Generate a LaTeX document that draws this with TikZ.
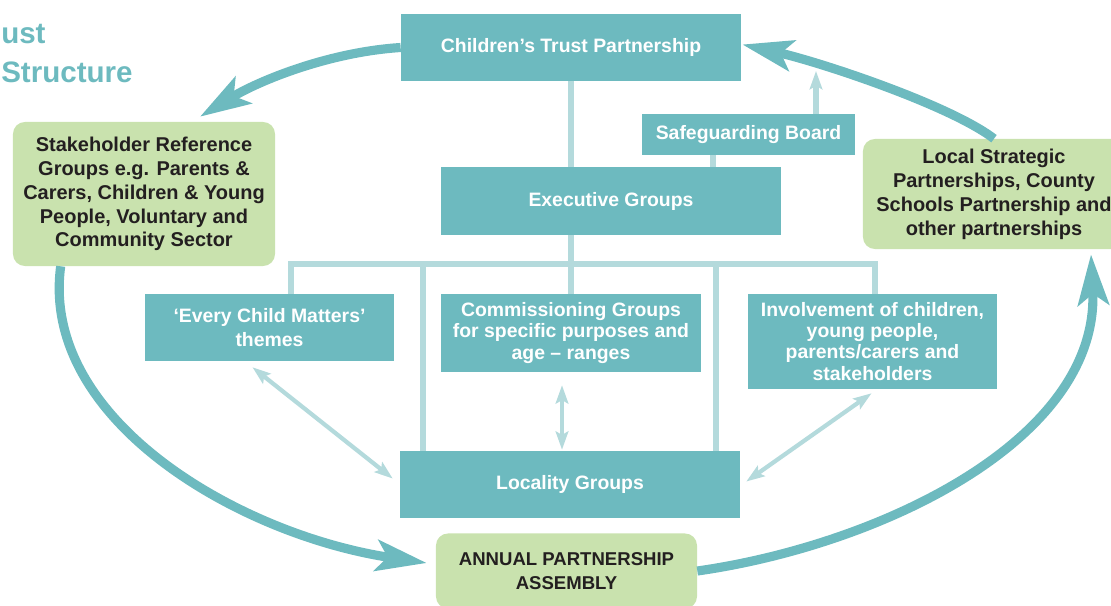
\documentclass[tikz,border=0pt]{standalone}
\usepackage{fontspec}
\setmainfont{Liberation Sans}
\usetikzlibrary{arrows.meta,calc}
\definecolor{teal1}{RGB}{109,186,191}
\definecolor{teal2}{RGB}{180,218,220}
\definecolor{leaf}{RGB}{201,226,174}
\definecolor{ink}{RGB}{35,31,32}
\begin{document}
\begin{tikzpicture}[x=0.025cm,y=-0.025cm,
    box/.style={fill=teal1,text=white,inner sep=0pt,align=center,
      font=\bfseries\fontsize{13.8}{15}\selectfont},
    gbox/.style={fill=leaf,text=ink,rounded corners=0.3cm,inner sep=0pt,align=center,
      font=\bfseries\fontsize{14.2}{17}\selectfont},
    link/.style={draw=teal2,line width=3.6pt},
    oneway/.style={link,-{Stealth[length=13pt,width=9pt,inset=2.5pt]}},
    twoway/.style={draw=teal2,line width=3pt,
      {Stealth[length=13pt,width=9pt,inset=2.5pt]}-{Stealth[length=13pt,width=9pt,inset=2.5pt]}},
    bigarrow/.style={draw=teal1,line width=6.5pt,-{Stealth[length=36pt,width=22pt,inset=8pt]}},
    ttl/.style={anchor=base west,inner sep=0pt,text=teal1,font=\bfseries\fontsize{21}{24}\selectfont}]
      \useasboundingbox (0,0) rectangle (1111,605);

      \node[ttl] (ttl1) at (1,44) {ust};
      \node[ttl] (ttl2) at (1,82) {Structure};

      \node[box,minimum width=8.5cm,minimum height=1.675cm] (ctp) at (571,47.5) {Children’s Trust Partnership};
      \node[box,minimum width=5.325cm,minimum height=1.025cm] (sgb) at (748.5,134.5) {Safeguarding Board};
      \node[box,minimum width=8.5cm,minimum height=1.7cm] (exg) at (611,201) {Executive Groups};
      \node[gbox,minimum width=6.55cm,minimum height=3.6cm] (srg) at (144,194)
        {Stakeholder Reference\\Groups e.g. Parents \&\\Carers, Children \& Young\\People, Voluntary and\\Community Sector};
      \node[gbox,minimum width=6.55cm,minimum height=2.75cm] (lsp) at (994,194)
        {Local Strategic\\Partnerships, County\\Schools Partnership and\\other partnerships};
      \node[box,minimum width=6.225cm,minimum height=1.675cm,
        font=\bfseries\fontsize{13.8}{17}\selectfont] (ecm) at (269.5,327.5) {‘Every Child Matters’\\themes};
      \node[box,minimum width=6.5cm,minimum height=1.95cm] (cmg) at (571,333)
        {Commissioning Groups\\for specific purposes and\\age – ranges};
      \node[box,minimum width=6.225cm,minimum height=2.375cm] (inv) at (872.5,341.5)
        {Involvement of children,\\young people,\\parents/carers and\\stakeholders};
      \node[box,minimum width=8.5cm,minimum height=1.675cm] (loc) at (570,484.5) {Locality Groups};
      \node[gbox,minimum width=6.525cm,minimum height=1.875cm,
        font=\bfseries\fontsize{13.2}{17}\selectfont] (apa) at (566.5,571) {ANNUAL PARTNERSHIP\\ASSEMBLY};

      \coordinate (busl) at (291,264);
      \coordinate (busr) at (875,264);
      \coordinate (dl) at (423,264);
      \coordinate (dr) at (716,264);
      \coordinate (sx) at (713,0);
      \coordinate (sgtip) at (816,71);

      \draw[link] (ctp.south) -- (ctp.south |- exg.north);
      \draw[link] (cmg.north |- exg.south) -- (cmg.north);
      \draw[link] (busl |- ecm.north) -- (busl) -- (busr) -- (busr |- inv.north);
      \draw[link] (dl) -- (dl |- loc.north);
      \draw[link] (dr) -- (dr |- loc.north);
      \draw[link] (sx |- sgb.south) -- (sx |- exg.north);
      \draw[oneway] (sgtip |- sgb.north) -- (sgtip);

      \draw[twoway] ($(ecm.south)+(-17,6)$) -- ($(loc.west)+(-7,-6)$);
      \draw[twoway] ($(cmg.south)+(-9,13)$) -- ($(loc.north)+(-8,-1)$);
      \draw[twoway] ($(inv.south)+(-1,4)$) -- ($(loc.east)+(6,-3)$);

      \draw[bigarrow] (ctp.west) .. controls (330,52) and (260,80) .. ($(srg.north)+(56,-5)$);
      \draw[bigarrow] ($(srg.south west)+(48,0)$) .. controls (40,420) and (240,535) .. ($(apa.west)+(-9,-8)$);
      \draw[bigarrow] (apa.east) .. controls (880,545) and (1100,440) .. ($(lsp.south)+(97,5)$);
      \draw[bigarrow] (lsp.north) .. controls (950,105) and (820,62) .. ($(ctp.east)+(1,-3)$);
    \end{tikzpicture}
\end{document}
